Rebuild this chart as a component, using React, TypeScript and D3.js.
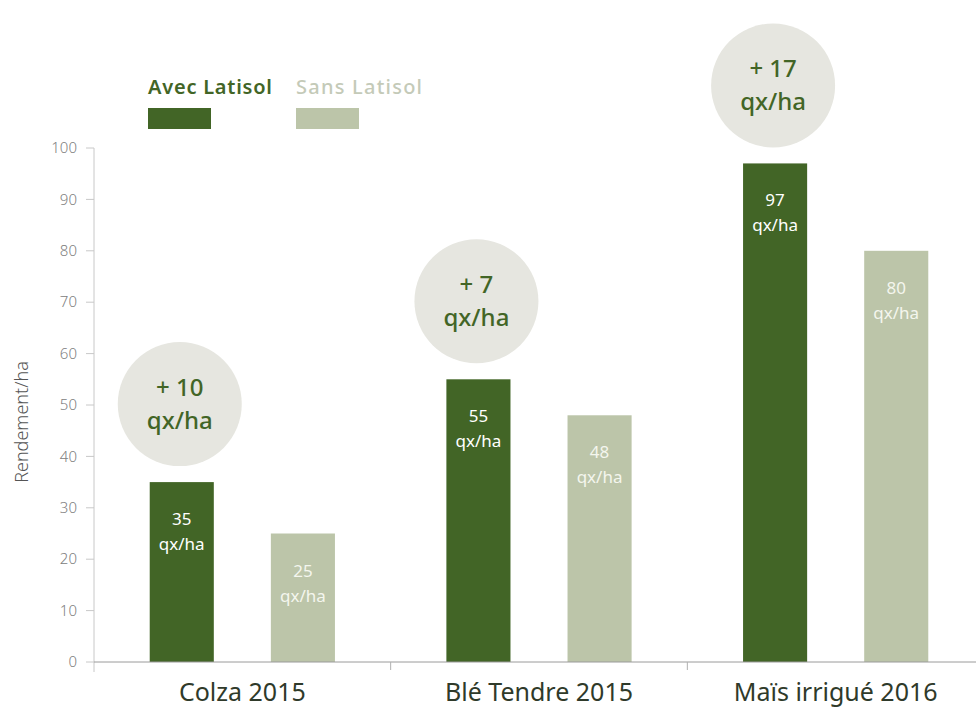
import React from 'react';
import * as d3 from 'd3';

const categories = ['Colza 2015', 'Blé Tendre 2015', 'Maïs irrigué 2016'];
const series = ['Avec Latisol', 'Sans Latisol'];
const avecValues = [35, 55, 97];
const sansValues = [25, 48, 80];
const gains = [10, 7, 17];
const yTicks = [0, 10, 20, 30, 40, 50, 60, 70, 80, 90, 100];

const W = 976;
const H = 707;
const FONT = '"Noto Sans", "Open Sans", sans-serif';
const DARK = '#426526';
const LIGHT = '#bcc5a9';
const BUBBLE = '#e6e6e0';

export default function App() {
  const x = d3.scaleBand<string>().domain(categories).range([94, 984]).padding(0);
  const inner = d3
    .scaleBand<string>()
    .domain(series)
    .range([0, x.bandwidth()])
    .paddingInner(0.471)
    .paddingOuter(0.46);
  const y = d3.scaleLinear().domain([0, 100]).range([662, 148]);
  const color = d3.scaleOrdinal<string, string>().domain(series).range([DARK, LIGHT]);

  const rows = categories.map((c, i) => ({ cat: c, values: [avecValues[i], sansValues[i]], gain: gains[i] }));

  return (
    <svg
      width={W}
      height={H}
      style={{ position: 'absolute', left: 0, top: 0, background: '#fff' }}
      fontFamily={FONT}
    >
      {/* legend */}
      {series.map((s, i) => {
        const lx = i === 0 ? 148 : 296;
        return (
          <g key={s}>
            <text
              x={lx}
              y={94}
              fontSize={20}
              fontWeight={i === 0 ? 600 : 500}
              fill={i === 0 ? DARK : '#c4cab8'}
              textLength={i === 0 ? 124 : 126}
            >
              {s}
            </text>
            <rect x={lx} y={108} width={63} height={21} fill={color(s)} />
          </g>
        );
      })}

      {/* y axis */}
      <line x1={94} x2={94} y1={148} y2={672} stroke="#c8c8c8" strokeWidth={1} />
      {yTicks.map(t => (
        <g key={t} transform={`translate(0,${y(t)})`}>
          <line x1={86} x2={94} stroke="#c8c8c8" />
          <text x={77} dy="0.35em" textAnchor="end" fontSize={15} fontWeight={300} fill="#808080">
            {t}
          </text>
        </g>
      ))}
      <text
        transform={`translate(28,422) rotate(-90)`}
        textAnchor="middle"
        fontSize={18}
        fontWeight={300}
        fill="#555"
      >
        Rendement/ha
      </text>

      {/* bars */}
      {rows.map(r => {
        const x0 = x(r.cat) as number;
        const cx = x0 + (inner(series[0]) as number) + inner.bandwidth() / 2 - 2;
        const cy = y(r.values[0]) - 78;
        return (
          <g key={r.cat}>
            {r.values.map((v, j) => {
              const bx = x0 + (inner(series[j]) as number);
              const by = y(v);
              return (
                <g key={series[j]}>
                  <rect x={bx} y={by} width={inner.bandwidth()} height={y(0) - by} fill={color(series[j])} />
                  <text
                    x={bx + inner.bandwidth() / 2}
                    y={by + 43}
                    textAnchor="middle"
                    fontSize={17}
                    fill={j === 0 ? '#fff' : '#f4f6ee'}
                  >
                    {v}
                  </text>
                  <text
                    x={bx + inner.bandwidth() / 2}
                    y={by + 68}
                    textAnchor="middle"
                    fontSize={17}
                    fill={j === 0 ? '#fff' : '#f4f6ee'}
                  >
                    qx/ha
                  </text>
                </g>
              );
            })}
            <circle cx={cx} cy={cy} r={62} fill={BUBBLE} />
            <text x={cx} y={cy - 8} textAnchor="middle" fontSize={24} fontWeight={500} fill={DARK}>
              {`+ ${r.gain}`}
            </text>
            <text x={cx} y={cy + 25} textAnchor="middle" fontSize={24} fontWeight={500} fill={DARK}>
              qx/ha
            </text>
            <text
              x={x0 + x.bandwidth() / 2}
              y={701}
              textAnchor="middle"
              fontSize={25}
              fill="#2f3a2a"
            >
              {r.cat}
            </text>
          </g>
        );
      })}

      {/* baseline and separators */}
      <line x1={94} x2={W} y1={662} y2={662} stroke="#9a9a9a" />
      {categories.slice(1).map(c => (
        <line key={c} x1={x(c)} x2={x(c)} y1={662} y2={670} stroke="#b0b0b0" />
      ))}
    </svg>
  );
}
